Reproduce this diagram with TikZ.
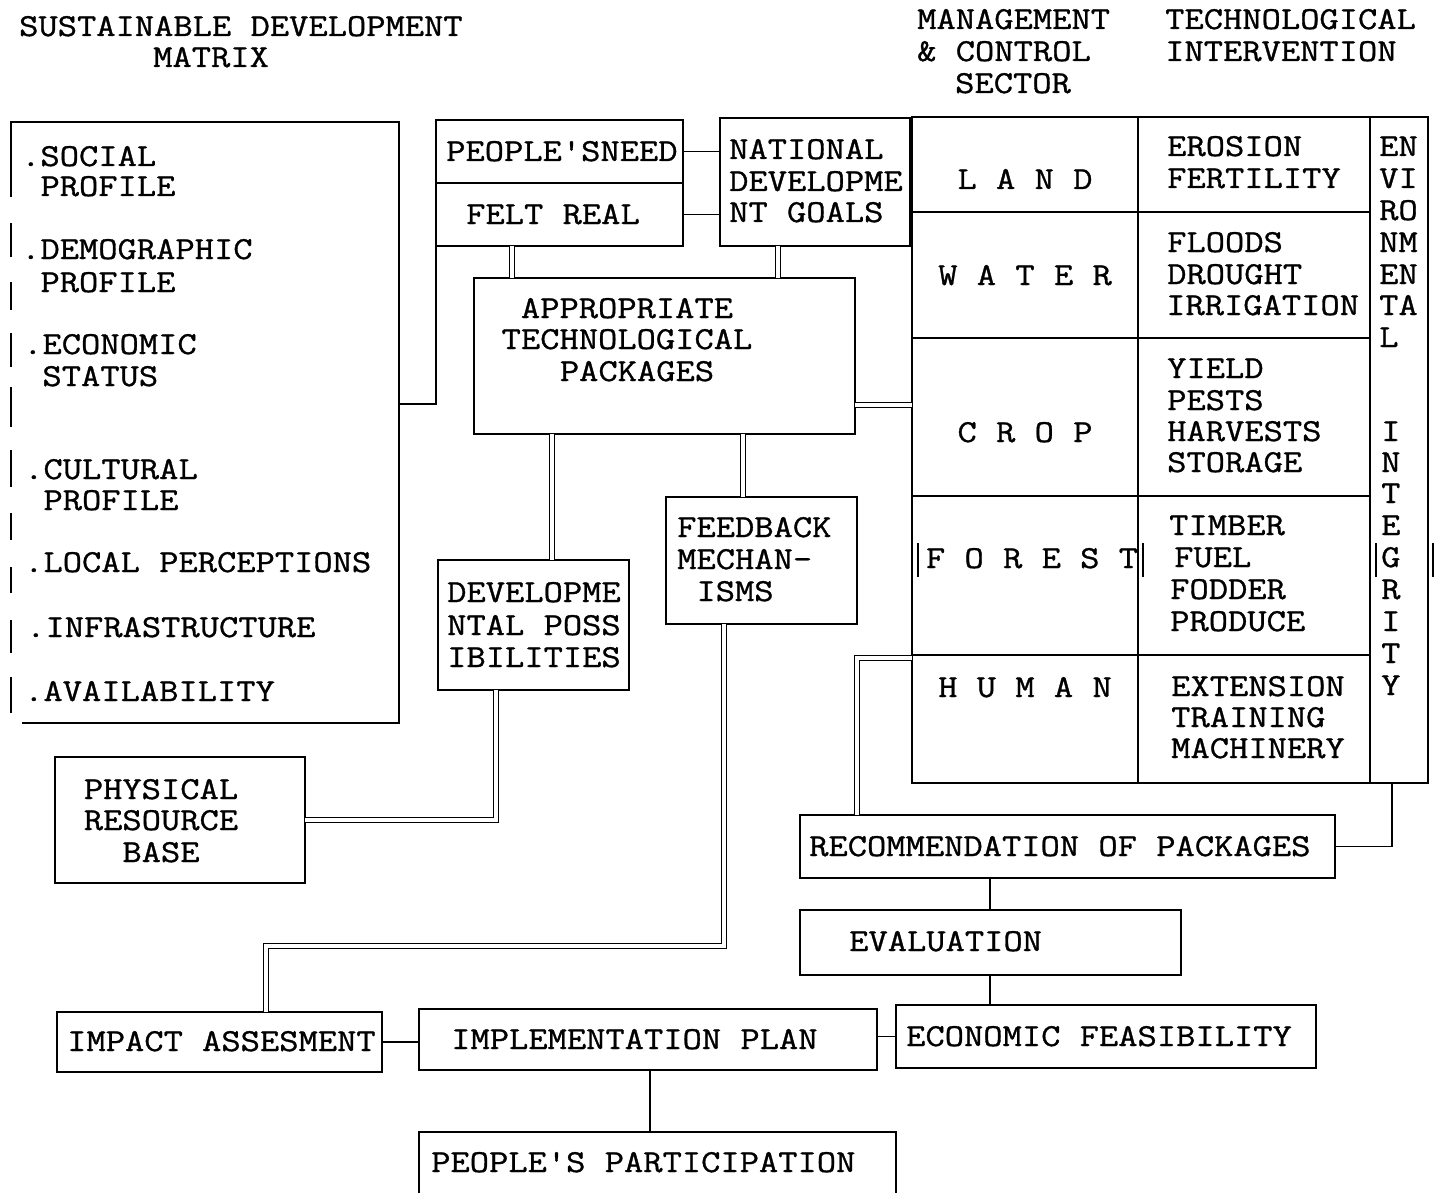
\documentclass[tikz,border=0pt]{standalone}
\usepackage{fontspec}
\newfontfamily\tw[FakeStretch=1.17,FakeBold=1]{Latin Modern Mono}
\newcounter{tn}
\newcommand\TX[3]{\stepcounter{tn}\node[txt] (t\arabic{tn}) at (#1,#2) {#3};}
\newcommand\TC[3]{\stepcounter{tn}\node[ctxt] (t\arabic{tn}) at (#1,#2) {#3};}
\newcommand\BX[5]{\node[box, minimum width={(#4-#2)*1pt}, minimum height={(#5-#3)*1pt}] (#1) at (#2,#3) {};}
\begin{document}
\begin{tikzpicture}[x=1pt,y=-1pt,
  box/.style={draw, line width=1.5pt, inner sep=0pt, outer sep=0pt, anchor=north west},
  txt/.style={inner sep=0pt, anchor=base west, font=\tw\fontsize{32}{32}\selectfont},
  ctxt/.style={txt, anchor=base},
  ln/.style={line width=1.5pt},
  dbl/.style={line width=1.3pt, double distance=4pt},
  bar/.style={line width=2.4pt}]
\useasboundingbox[fill=white] (0,0) rectangle (1437,1193);

% ---------- headings ----------
\TX{19}{36}{SUSTAINABLE DEVELOPMENT}
\TX{153}{67}{MATRIX}
\TX{917}{29}{MANAGEMENT}
\TX{917}{61}{\& CONTROL}
\TX{955}{93}{SECTOR}
\TX{1165}{29}{TECHNOLOGICAL}
\TX{1165}{61}{INTERVENTION}

% ---------- left matrix box ----------
\node[box, draw=none, minimum width=389pt, minimum height=601pt] (lb) at (10,122) {};
\draw[ln] (lb.north west) -- (lb.north east) -- (lb.south east) -- ([xshift=12pt]lb.south west);
\foreach \a/\b in {122/197,223/257,282/310,333/367,387/427,450/487,513/540,567/593,620/653,677/713}
  \draw[ln] (11,\a) -- (11,\b);
\TX{21}{166}{.SOCIAL}
\TX{21}{196}{\hphantom{X}PROFILE}
\TX{21}{259}{.DEMOGRAPHIC}
\TX{21}{292}{\hphantom{X}PROFILE}
\TX{23}{354}{.ECONOMIC}
\TX{23}{386}{\hphantom{X}STATUS}
\TX{24}{479}{.CULTURAL}
\TX{24}{510}{\hphantom{X}PROFILE}
\TX{24}{572}{.LOCAL PERCEPTIONS}
\TX{26}{637}{.INFRASTRUCTURE}
\TX{24}{701}{.AVAILABILITY}

% ---------- top middle boxes ----------
\BX{need}{436}{120}{683}{183}
\BX{felt}{436}{183}{683}{246}
\TX{446}{161}{PEOPLE'SNEED}
\TX{466}{224}{FELT REAL}
\BX{nat}{720}{118}{910}{246}
\TX{729}{159}{NATIONAL}
\TX{729}{191}{DEVELOPME}
\TX{729}{222}{NT GOALS}

\BX{apt}{474}{278}{855}{434}
\TC{627}{318}{APPROPRIATE}
\TC{627}{349}{TECHNOLOGICAL}
\TC{637}{381}{PACKAGES}

\BX{dev}{438}{560}{629}{690}
\TX{447}{602}{DEVELOPME}
\TX{447}{635}{NTAL POSS}
\TX{447}{667}{IBILITIES}

\BX{fb}{666}{497}{857}{624}
\TX{677}{537}{FEEDBACK}
\TX{677}{569}{MECHAN-}
\TX{677}{601}{\hphantom{X}ISMS}

\BX{phys}{55}{757}{305}{883}
\TC{161}{799}{PHYSICAL}
\TC{161}{830}{RESOURCE}
\TC{161}{862}{BASE}

% ---------- table ----------
\BX{land}{912}{117}{1138}{212}
\BX{water}{912}{212}{1138}{338}
\BX{crop}{912}{338}{1138}{496}
\BX{forest}{912}{496}{1138}{655}
\BX{human}{912}{655}{1138}{783}
\BX{tland}{1138}{117}{1370}{212}
\BX{twater}{1138}{212}{1370}{338}
\BX{tcrop}{1138}{338}{1370}{496}
\BX{tforest}{1138}{496}{1370}{655}
\BX{thuman}{1138}{655}{1370}{783}
\BX{env}{1370}{117}{1428}{783}

\TC{1025}{189}{L A N D}
\TC{1025}{285}{W A T E R}
\TC{1025}{442}{C R O P}
\TC{1032}{568}{F O R E S T}
\TC{1025}{697}{H U M A N}
\draw[bar] (918,543) -- (918,577);
\draw[bar] (1143,543) -- (1143,577);
\draw[bar] (1376,543) -- (1376,577);
\draw[bar] (1433,543) -- (1433,577);

\TX{1167}{156}{EROSION}
\TX{1167}{188}{FERTILITY}
\TX{1167}{252}{FLOODS}
\TX{1167}{284}{DROUGHT}
\TX{1166}{315}{IRRIGATION}
\TX{1167}{378}{YIELD}
\TX{1167}{410}{PESTS}
\TX{1167}{441}{HARVESTS}
\TX{1167}{472}{STORAGE}
\TX{1169}{535}{TIMBER}
\TX{1174}{567}{FUEL}
\TX{1170}{599}{FODDER}
\TX{1170}{631}{PRODUCE}
\TX{1171}{696}{EXTENSION}
\TX{1171}{727}{TRAINING}
\TX{1171}{758}{MACHINERY}

\TX{1379}{156}{EN}
\TX{1379}{188}{VI}
\TX{1379}{220}{RO}
\TX{1379}{252}{NM}
\TX{1379}{284}{EN}
\TX{1379}{315}{TA}
\TX{1379}{347}{L}
\TX{1381}{441}{I}
\TX{1381}{472}{N}
\TX{1381}{503}{T}
\TX{1381}{535}{E}
\TX{1381}{567}{G}
\TX{1381}{599}{R}
\TX{1381}{631}{I}
\TX{1381}{663}{T}
\TX{1381}{695}{Y}

% ---------- lower boxes ----------
\BX{rec}{800}{815}{1335}{878}
\TX{809}{856}{RECOMMENDATION OF PACKAGES}
\BX{eval}{800}{910}{1181}{975}
\TX{849}{951}{EVALUATION}
\BX{econ}{896}{1005}{1316}{1068}
\TX{906}{1046}{ECONOMIC FEASIBILITY}
\BX{imp}{57}{1012}{382}{1072}
\TX{67}{1051}{IMPACT ASSESMENT}
\BX{impl}{419}{1009}{877}{1070}
\TX{451}{1049}{IMPLEMENTATION PLAN}
\node[box, draw=none, minimum width=477pt, minimum height=61pt] (part) at (419,1132) {};
\draw[ln] (part.south west) -- (part.north west) -- (part.north east) -- (part.south east);
\TX{431}{1172}{PEOPLE'S PARTICIPATION}

% ---------- connectors ----------
\draw[ln] (lb.east |- 0,404) -| (felt.south west);
\draw[ln] (need.east) -- (need.east -| nat.west);
\draw[ln] (felt.east) -- (felt.east -| nat.west);
\draw[dbl] (512,0 |- felt.south) -- (512,0 |- apt.north);
\draw[dbl] (778,0 |- nat.south) -- (778,0 |- apt.north);
\draw[dbl] (apt.east |- 0,405) -- (crop.west |- 0,405);
\draw[dbl] (552,0 |- apt.south) -- (552,0 |- dev.north);
\draw[dbl] (743,0 |- apt.south) -- (743,0 |- fb.north);
\draw[dbl] (496,0 |- dev.south) |- (phys.east);
\coordinate (fbk) at (266,946);
\draw[dbl] (724,0 |- fb.south) |- (fbk) -- (fbk |- imp.north);
\draw[dbl] (human.west |- 0,658) -| (857,0 |- rec.north);
\draw[ln] (rec.east) -| (1392,0 |- env.south);
\draw[ln] (990,0 |- rec.south) -- (990,0 |- eval.north);
\draw[ln] (990,0 |- eval.south) -- (990,0 |- econ.north);
\draw[ln] (imp.east) -- (imp.east -| impl.west);
\draw[ln] (econ.west) -- (econ.west -| impl.east);
\draw[ln] (650,0 |- impl.south) -- (650,0 |- part.north);
\end{tikzpicture}
\end{document}
